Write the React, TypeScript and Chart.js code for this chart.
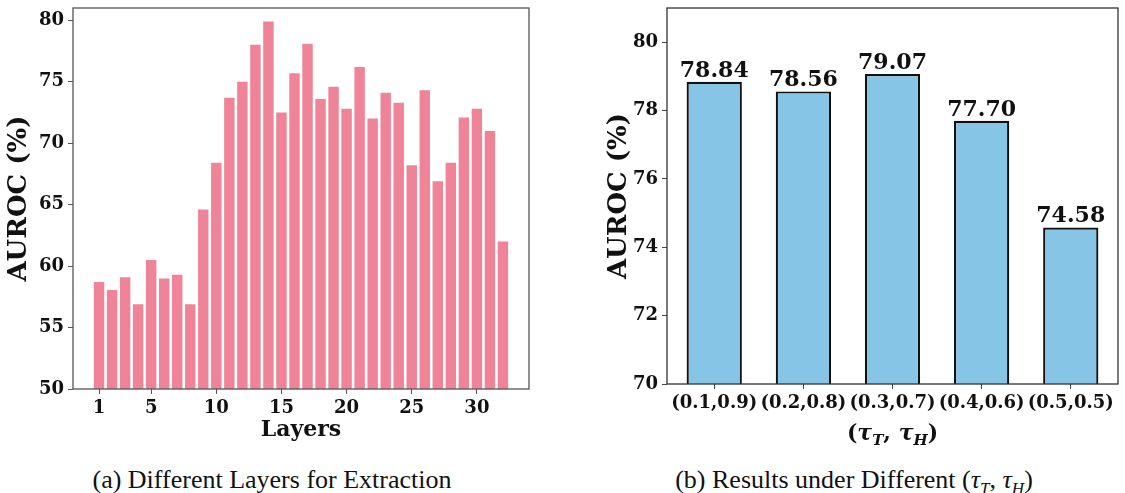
import React, { useEffect, useRef } from "react";
import { Chart, registerables } from "chart.js";

Chart.register(...registerables);

// ---------- data ----------
const layers = [1, 2, 3, 4, 5, 6, 7, 8, 9, 10, 11, 12, 13, 14, 15, 16, 17, 18, 19, 20, 21, 22, 23, 24, 25, 26, 27, 28, 29, 30, 31, 32];
const layerAuroc = [58.7, 58.05, 59.1, 56.9, 60.5, 59.0, 59.3, 56.9, 64.6, 68.4, 73.7, 75.0, 78.0, 79.9, 72.5, 75.7, 78.1, 73.6, 74.6, 72.8, 76.2, 72.0, 74.1, 73.3, 68.2, 74.3, 66.9, 68.4, 72.1, 72.8, 71.0, 62.0];
const layerTicks = [1, 5, 10, 15, 20, 25, 30];
const leftYTicks = [50, 55, 60, 65, 70, 75, 80];

const tauLabels = ["(0.1,0.9)", "(0.2,0.8)", "(0.3,0.7)", "(0.4,0.6)", "(0.5,0.5)"];
const tauAuroc = [78.84, 78.56, 79.07, 77.7, 74.58];
const rightYTicks = [70, 72, 74, 76, 78, 80];

const SERIF = '"DejaVu Serif", serif';
const tickFont = { family: SERIF, size: 18, weight: "bold" as const };
const titleFont = { family: SERIF, size: 26, weight: "bold" as const };

const zeroPad = (s: any) => {
  s.paddingTop = 0;
  s.paddingBottom = 0;
  s.paddingLeft = 0;
  s.paddingRight = 0;
};

const framePlugin = {
  id: "frame",
  afterDraw(chart: any, _args: any, opts: any) {
    const { ctx, chartArea } = chart;
    const { left, top, right, bottom } = chartArea;
    ctx.save();
    ctx.strokeStyle = opts.color || "#444";
    ctx.lineWidth = opts.width || 1.25;
    ctx.strokeRect(left, top, right - left, bottom - top);
    ctx.restore();
  },
};

function LeftChart() {
  const ref = useRef<HTMLCanvasElement>(null);
  useEffect(() => {
    const chart = new Chart(ref.current!, {
      type: "bar",
      data: {
        datasets: [
          {
            data: layers.map((l, i) => ({ x: l, y: layerAuroc[i] })),
            backgroundColor: "#EF8397",
            borderWidth: 0,
            barPercentage: 0.8,
            categoryPercentage: 1,
          },
        ],
      },
      options: {
        responsive: false,
        animation: false,
        layout: { padding: { top: 8, right: 21, left: 0, bottom: 0 } },
        plugins: {
          legend: { display: false },
          tooltip: { enabled: false },
          frame: { color: "#555", width: 1.3 },
        } as any,
        scales: {
          x: {
            type: "linear",
            min: -1,
            max: 34,
            offset: false,
            afterBuildTicks: (s: any) => {
              s.ticks = layerTicks.map((v) => ({ value: v }));
            },
            afterFit: (s: any) => {
              s.height = 61;
              zeroPad(s);
            },
            ticks: { font: tickFont, color: "#111", padding: 4, maxRotation: 0, autoSkip: false },
            grid: { offset: false, drawOnChartArea: false, drawTicks: true, tickLength: 5, color: "#555" },
            border: { display: false },
            title: { display: true, text: "Layers", font: { ...titleFont, size: 22 }, color: "#111", padding: { top: 0, bottom: 7 } },
          },
          y: {
            type: "linear",
            min: 50,
            max: 81,
            afterBuildTicks: (s: any) => {
              s.ticks = leftYTicks.map((v) => ({ value: v }));
            },
            afterFit: (s: any) => {
              s.width = 73;
              zeroPad(s);
            },
            ticks: { font: tickFont, color: "#111", padding: 4 },
            grid: { drawOnChartArea: false, drawTicks: true, tickLength: 5, color: "#555" },
            border: { display: false },
            title: { display: true, text: "AUROC (%)", font: titleFont, color: "#111", padding: { top: 4, bottom: 0 } },
          },
        },
      },
      plugins: [framePlugin],
    } as any);
    return () => chart.destroy();
  }, []);
  return <canvas ref={ref} width={550} height={450} style={{ position: "absolute", left: 0, top: 0, width: 550, height: 450 }} />;
}

const valueLabelPlugin = {
  id: "valueLabels",
  afterDatasetsDraw(chart: any) {
    const { ctx } = chart;
    const meta = chart.getDatasetMeta(0);
    ctx.save();
    ctx.font = `bold 22px ${SERIF}`;
    ctx.fillStyle = "#111";
    ctx.textAlign = "center";
    ctx.textBaseline = "alphabetic";
    meta.data.forEach((bar: any, i: number) => {
      ctx.fillText(tauAuroc[i].toFixed(2), bar.x, bar.y - 5);
    });
    ctx.restore();
  },
};

const tauTitlePlugin = {
  id: "tauTitle",
  afterDraw(chart: any) {
    const { ctx, chartArea } = chart;
    const cx = (chartArea.left + chartArea.right) / 2;
    const y = chartArea.bottom + 56;
    const big = `bold 22px ${SERIF}`;
    const bigIt = `italic bold 22px ${SERIF}`;
    const sub = `italic bold 15px ${SERIF}`;
    const parts: [string, string, number][] = [
      ["(", big, 0],
      ["τ", bigIt, 0],
      ["T", sub, 5],
      [", ", big, 0],
      ["τ", bigIt, 0],
      ["H", sub, 5],
      [")", big, 0],
    ];
    ctx.save();
    ctx.fillStyle = "#111";
    ctx.textBaseline = "alphabetic";
    ctx.textAlign = "left";
    let total = 0;
    for (const [t, f] of parts) {
      ctx.font = f;
      total += ctx.measureText(t).width;
    }
    let x = cx - total / 2;
    for (const [t, f, dy] of parts) {
      ctx.font = f;
      ctx.fillText(t, x, y + dy);
      x += ctx.measureText(t).width;
    }
    ctx.restore();
  },
};

function RightChart() {
  const ref = useRef<HTMLCanvasElement>(null);
  useEffect(() => {
    const chart = new Chart(ref.current!, {
      type: "bar",
      data: {
        datasets: [
          {
            data: tauLabels.map((_l, i) => ({ x: i, y: tauAuroc[i] })),
            backgroundColor: "#86C5E5",
            borderColor: "#111",
            borderWidth: 2.2,
            borderSkipped: false,
            barPercentage: 0.62,
            categoryPercentage: 1,
          },
        ],
      },
      options: {
        responsive: false,
        animation: false,
        layout: { padding: { top: 8, right: 7, left: 0, bottom: 0 } },
        plugins: {
          legend: { display: false },
          tooltip: { enabled: false },
          frame: { color: "#333", width: 1.3 },
        } as any,
        scales: {
          x: {
            type: "linear",
            min: -0.53,
            max: 4.53,
            offset: false,
            afterBuildTicks: (s: any) => {
              s.ticks = tauLabels.map((_l, i) => ({ value: i }));
            },
            afterFit: (s: any) => {
              s.height = 66;
              zeroPad(s);
            },
            ticks: {
              font: tickFont,
              color: "#111",
              padding: 4,
              maxRotation: 0,
              autoSkip: false,
              callback: (v: any) => tauLabels[Math.round(Number(v))] ?? "",
            },
            grid: { offset: false, drawOnChartArea: false, drawTicks: true, tickLength: 5, color: "#444" },
            border: { display: false },
            title: { display: false },
          },
          y: {
            type: "linear",
            min: 70,
            max: 81,
            afterBuildTicks: (s: any) => {
              s.ticks = rightYTicks.map((v) => ({ value: v }));
            },
            afterFit: (s: any) => {
              s.width = 107;
              zeroPad(s);
            },
            ticks: { font: tickFont, color: "#111", padding: 4 },
            grid: { drawOnChartArea: false, drawTicks: true, tickLength: 5, color: "#444" },
            border: { display: false },
            title: { display: true, text: "AUROC (%)", font: titleFont, color: "#111", padding: { top: 44, bottom: 0 } },
          },
        },
      },
      plugins: [framePlugin, valueLabelPlugin, tauTitlePlugin],
    } as any);
    return () => chart.destroy();
  }, []);
  return <canvas ref={ref} width={565} height={450} style={{ position: "absolute", left: 560, top: 0, width: 565, height: 450 }} />;
}

const captionStyle: React.CSSProperties = {
  position: "absolute",
  top: 466,
  width: 500,
  textAlign: "center",
  fontFamily: '"Liberation Serif", serif',
  fontSize: 26,
  color: "#111",
  lineHeight: "28px",
  whiteSpace: "nowrap",
};

export default function App() {
  return (
    <div style={{ position: "fixed", left: 0, top: 0, width: 1125, height: 493, background: "#fff", overflow: "hidden" }}>
      <LeftChart />
      <RightChart />
      <div style={{ ...captionStyle, left: 272 - 250 }}>(a) Different Layers for Extraction</div>
      <div style={{ ...captionStyle, left: 854 - 250 }}>
        (b) Results under Different (<i>τ</i>
        <sub style={{ fontSize: 17, fontStyle: "italic" }}>T</sub>, <i>τ</i>
        <sub style={{ fontSize: 17, fontStyle: "italic" }}>H</sub>)
      </div>
    </div>
  );
}
